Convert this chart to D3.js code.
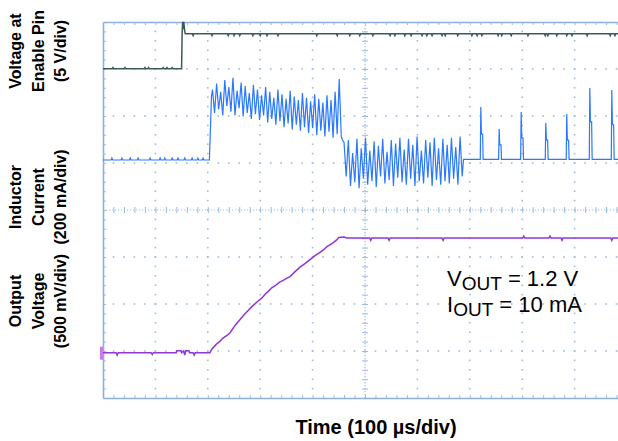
<!DOCTYPE html>
<html>
<head>
<meta charset="utf-8">
<script src="https://cdn.jsdelivr.net/npm/d3@7"></script>
<style>
  body { margin: 0; background: #fff; }
  text { font-family: "Liberation Sans", Arial, Helvetica, sans-serif; }
</style>
</head>
<body>
<div id="scope"></div>
<script>
// ---- data read off the scope shot ----
// time in microseconds, 100 us/div
var enableLow = 0, enableHigh = 3.72;                 // V
var enableLowBumps = [19, 42, 80, 87, 115, 122, 132];  // us
var enableStep = [[150, 0], [151, 3.72], [152, 5.0], [153, 4.2], [154, 5.0], [156, 4.0], [157, 3.72]];
var enableNotches = [172, 208, 239, 250, 261, 286, 300, 313, 334, 408, 447, 471, 490, 515, 548, 557, 576, 588,
                     609, 618, 628, 647, 653, 677, 704, 714, 723, 754, 761, 779, 811, 844, 849, 866, 885, 895,
                     924, 968, 977];

// inductor current, mA
var ilBaseBumps = [17, 36, 52, 67, 90, 109, 118, 132, 143, 156, 170, 181, 191];
var ilRise = [[203, 0], [205, 130], [207, 270]];
var burst1Start = 209, burst1Step = 3.9;
var burst1 = [300,200, 325,215, 290,190, 340,230, 310,205, 350,190, 295,220, 330,185,
              315,200, 285,175, 320,195, 300,170, 275,190, 310,160, 290,175, 265,150,
              300,165, 280,140, 260,155, 295,130, 270,150, 255,125, 285,140, 265,115,
              250,135, 280,105, 260,125, 245,100, 275,120, 255,95, 290,110, 345,100];
var ilDrop = [[457, 85]];
var burst2Start = 460, burst2Step = 4.1;
var burst2 = [75,-70, 85,-110, 30,-95, 90,-120, 50,-80, 95,-105, 40,-90, 80,-115,
              60,-70, 90,-100, 35,-85, 85,-110, 70,-75, 95,-95, 45,-105, 90,-80,
              65,-110, 100,-90, 40,-100, 85,-75, 75,-110, 95,-85, 50,-105, 90,-90,
              65,-100, 95,-80, 55,-105, 100,-70];
var ilIdle = 3;
var spikeTimes    = [721, 756, 798, 845, 885, 929, 971];
var spikePeaks    = [226, 132, 204, 157, 196, 306, 298];
var spikeShoulder = [110, 64, 94, 85, 85, 162, 150];

// output voltage, V
var voutStart = [[0, 0], [25, 0], [27, -0.025], [29, 0], [92, 0], [94, -0.02], [96, 0], [140, 0], [141, 0.02],
                 [149, 0.02], [150, 0], [154, 0.02], [156, -0.025], [158, 0.02], [164, 0.02], [165, 0],
                 [172, 0], [174, -0.025], [176, 0], [204, 0]];
var voutRamp = [[208, 0.04], [213, 0.07], [218, 0.10], [223, 0.12], [228, 0.15], [233, 0.17], [238, 0.19],
                [242, 0.21], [247, 0.25], [252, 0.29], [258, 0.33], [264, 0.37], [270, 0.41], [277, 0.45],
                [284, 0.49], [290, 0.52], [296, 0.55], [303, 0.58], [309, 0.62], [315, 0.65], [322, 0.69],
                [330, 0.72], [337, 0.75], [344, 0.77], [350, 0.79], [357, 0.81], [366, 0.86], [376, 0.91],
                [386, 0.95], [395, 0.99], [404, 1.03], [412, 1.06], [420, 1.09], [428, 1.13], [437, 1.16],
                [446, 1.20], [450, 1.225], [460, 1.23], [465, 1.22]];
var voutFinal = 1.22;
var voutDips = [511, 546, 649, 876, 971];
var voutBumps = [803, 853];

var labelEnable  = ["Voltage at", "Enable Pin", "(5 V/div)"];
var labelCurrent = ["Inductor", "Current", "(200 mA/div)"];
var labelVout    = ["Output", "Voltage", "(500 mV/div)"];
var xTitle = "Time (100 \u00b5s/div)";

// ---- layout ----
var width = 618, height = 441;
var gridCol = "#9dbbe0", borderCol = "#8cb0da";

var svg = d3.select("#scope").append("svg")
    .attr("width", width).attr("height", height);
svg.append("rect").attr("width", width).attr("height", height).attr("fill", "#fff");

var x = d3.scaleLinear().domain([0, 1000]).range([103, 627]);
var yDiv = d3.scaleLinear().domain([0, 8]).range([22, 398]);
var yEn = d3.scaleLinear().domain([0, 5]).range([68.7, 21.7]);
var yIl = d3.scaleLinear().domain([0, 200]).range([160, 113]);
var yVo = d3.scaleLinear().domain([0, 0.5]).range([352.7, 305.7]);

var minorT = d3.range(20, 1000, 20);
var minorD = d3.range(1, 40).map(function (k) { return k / 5; });

// dotted graticule
var grid = svg.append("g");
[1, 2, 3, 5, 6, 7].forEach(function (row) {
  grid.selectAll(null).data(minorT).enter().append("rect")
    .attr("x", function (t) { return x(t) - 0.8; })
    .attr("y", yDiv(row) - 0.8)
    .attr("width", 1.6).attr("height", 1.6)
    .attr("fill", gridCol);
});
[1, 2, 3, 4, 6, 7, 8, 9].forEach(function (col) {
  grid.selectAll(null).data(minorD).enter().append("rect")
    .attr("x", x(col * 100) - 0.8)
    .attr("y", function (d) { return yDiv(d) - 0.8; })
    .attr("width", 1.6).attr("height", 1.6)
    .attr("fill", gridCol);
});

// centre cross with ticks
grid.append("line")
  .attr("x1", x(0)).attr("x2", x(1000)).attr("y1", yDiv(4)).attr("y2", yDiv(4))
  .attr("stroke", gridCol).attr("stroke-width", 1.2).attr("stroke-dasharray", "1.2,1.8");
grid.append("line")
  .attr("x1", x(500)).attr("x2", x(500)).attr("y1", yDiv(0)).attr("y2", yDiv(8))
  .attr("stroke", gridCol).attr("stroke-width", 1.2).attr("stroke-dasharray", "1.2,1.8");

var hTicks = svg.append("g")
  .attr("transform", "translate(0," + (yDiv(4) - 3) + ")")
  .call(d3.axisBottom(x).tickValues(minorT).tickSize(6).tickFormat(""));
var vTicks = svg.append("g")
  .attr("transform", "translate(" + (x(500) - 3) + ",0)")
  .call(d3.axisRight(yDiv).tickValues(minorD).tickSize(6).tickFormat(""));
hTicks.select(".domain").remove();
vTicks.select(".domain").remove();

// border with edge ticks
var topAx = svg.append("g").attr("transform", "translate(0," + yDiv(0) + ")")
  .call(d3.axisBottom(x).tickValues(minorT).tickSize(3).tickSizeOuter(0).tickFormat(""));
var botAx = svg.append("g").attr("transform", "translate(0," + yDiv(8) + ")")
  .call(d3.axisTop(x).tickValues(minorT).tickSize(3).tickSizeOuter(0).tickFormat(""));
var leftAx = svg.append("g").attr("transform", "translate(" + x(0) + ",0)")
  .call(d3.axisRight(yDiv).tickValues(minorD).tickSize(3).tickSizeOuter(0).tickFormat(""));

[hTicks, vTicks, topAx, botAx, leftAx].forEach(function (g) {
  g.selectAll("line").attr("stroke", gridCol).attr("stroke-width", 1);
  g.selectAll(".domain").attr("stroke", borderCol).attr("stroke-width", 1.6);
});

// ---- traces ----
function trace(scale) {
  return d3.line().x(function (d) { return x(d[0]); }).y(function (d) { return scale(d[1]); });
}

// enable pin
var enPts = [[0, enableLow]];
enableLowBumps.forEach(function (t) {
  enPts.push([t - 1.5, enableLow], [t, enableLow + 0.12], [t + 1.5, enableLow]);
});
enPts = enPts.concat(enableStep);
enableNotches.forEach(function (t) {
  enPts.push([t - 1.5, enableHigh], [t, enableHigh - 0.2], [t + 1.5, enableHigh]);
});
enPts.push([1000, enableHigh]);

// inductor current
var ilPts = [[0, 0]];
ilBaseBumps.forEach(function (t) { ilPts.push([t - 1.5, 0], [t, 8], [t + 1.5, 0]); });
ilPts = ilPts.concat(ilRise);
burst1.forEach(function (v, i) { ilPts.push([burst1Start + i * burst1Step, v]); });
ilPts = ilPts.concat(ilDrop);
burst2.forEach(function (v, i) { ilPts.push([burst2Start + i * burst2Step, v]); });
ilPts.push([688, ilIdle]);
spikeTimes.forEach(function (t, i) {
  ilPts.push([t - 1, ilIdle], [t, spikePeaks[i]], [t + 1.2, spikeShoulder[i]],
             [t + 3.5, spikeShoulder[i]], [t + 4.5, ilIdle]);
});
ilPts.push([1000, ilIdle]);

// output voltage
var voPts = voutStart.concat(voutRamp);
var voEvents = voutDips.map(function (t) { return [t, -0.025]; })
  .concat(voutBumps.map(function (t) { return [t, 0.02]; }))
  .sort(function (a, b) { return a[0] - b[0]; });
voEvents.forEach(function (e) {
  voPts.push([e[0] - 2, voutFinal], [e[0], voutFinal + e[1]], [e[0] + 2, voutFinal]);
});
voPts.push([1000, voutFinal]);

svg.append("path").datum(enPts).attr("d", trace(yEn))
  .attr("fill", "none").attr("stroke", "#3b5a5a").attr("stroke-width", 1.5);
svg.append("path").datum(ilPts).attr("d", trace(yIl))
  .attr("fill", "none").attr("stroke", "#2a78ff").attr("stroke-width", 1.2);
svg.append("path").datum(voPts).attr("d", trace(yVo))
  .attr("fill", "none").attr("stroke", "#9236d8").attr("stroke-width", 1.5);

// channel ground marker for output voltage
svg.append("rect")
  .attr("x", x(0) - 3).attr("y", yVo(0) - 6).attr("width", 3).attr("height", 13)
  .attr("fill", "#cc77ee");

// ---- text ----
function sideLabel(lines, cy) {
  var g = svg.append("g");
  lines.forEach(function (s, i) {
    g.append("text")
      .attr("transform", "translate(" + (21 + i * 22.5) + "," + cy + ") rotate(-90)")
      .attr("text-anchor", "middle")
      .attr("font-size", "16px").attr("font-weight", "bold").attr("fill", "#000")
      .text(s);
  });
}
sideLabel(labelEnable, 51);
sideLabel(labelCurrent, 197);
sideLabel(labelVout, 301);

svg.append("text")
  .attr("x", 376).attr("y", 434)
  .attr("text-anchor", "middle")
  .attr("font-size", "20px").attr("font-weight", "bold")
  .text(xTitle);

function subLabel(main, sub, rest, y) {
  var t = svg.append("text").attr("x", 447).attr("y", y).attr("font-size", "22px").attr("fill", "#000");
  t.append("tspan").text(main);
  t.append("tspan").attr("font-size", "19px").attr("dy", 3.5).text(sub);
  t.append("tspan").attr("dy", -3.5).text(rest);
}
subLabel("V", "OUT", " = 1.2 V", 286);
subLabel("I", "OUT", " = 10 mA", 312);
</script>
</body>
</html>
